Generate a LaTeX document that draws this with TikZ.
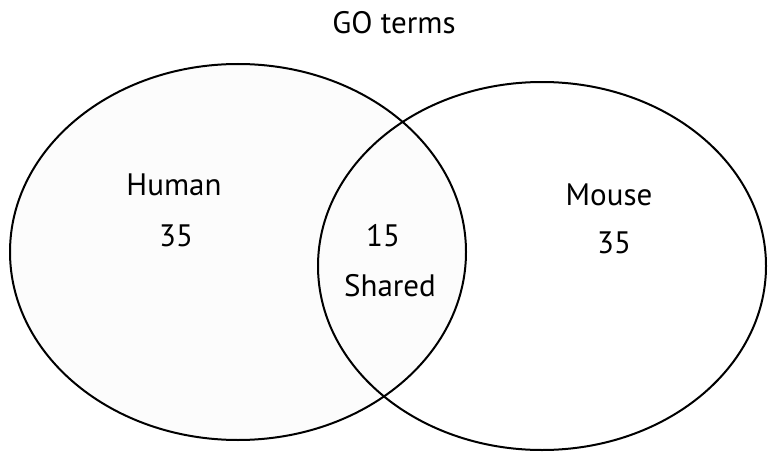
\documentclass[tikz,border=0pt]{standalone}
\usepackage{fontspec}
\setmainfont{PT Sans}
\usetikzlibrary{positioning}

\begin{document}
\begin{tikzpicture}[x=1pt, y=-1pt,
    setline/.style={line width=2pt, black},
    lbl/.style={font=\fontsize{31}{36}\selectfont, inner sep=0pt}]
\useasboundingbox (0,0) rectangle (768,452);
% Two sets
\draw[setline, fill=black!1] (238,252) ellipse [x radius=228, y radius=188];
\draw[setline] (542,266) ellipse [x radius=224, y radius=184];

% Title
\node[lbl] (title) at (394,23) {GO terms};

% Set labels and counts
\node[lbl] (human) at (174,185) {Human};
\node[lbl] (humanN) at (176,236) {35};
\node[lbl] (sharedN) at (383,236) {15};
\node[lbl] (shared) at (390,286) {Shared};
\node[lbl] (mouse) at (609,195) {Mouse};
\node[lbl] (mouseN) at (614,243) {35};
\end{tikzpicture}
\end{document}
